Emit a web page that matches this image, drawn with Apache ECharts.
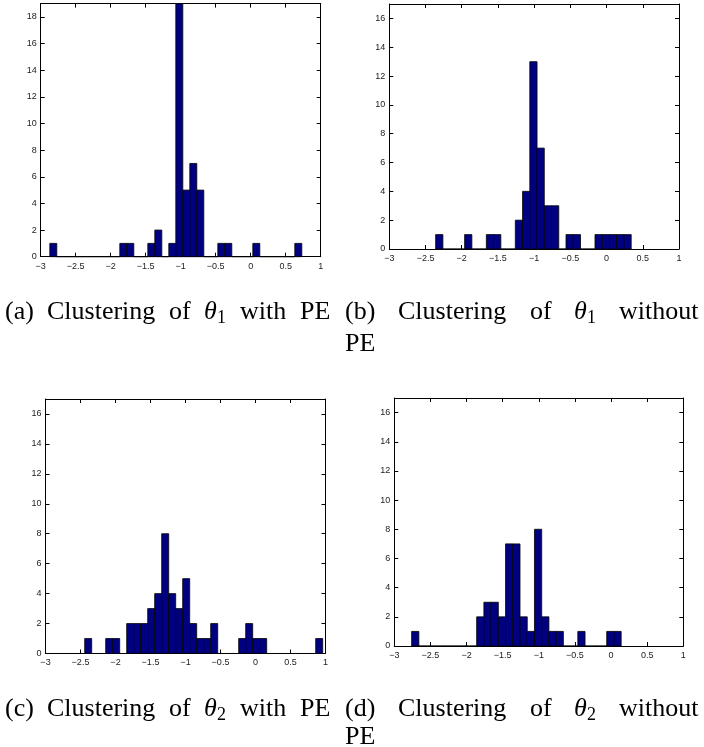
<!DOCTYPE html>
<html><head><meta charset="utf-8">
<script src="https://cdn.jsdelivr.net/npm/echarts@6/dist/echarts.min.js"></script>
<style>html,body{margin:0;padding:0;background:#fff}#c{width:704px;height:747px}</style>
</head><body><div id="c"></div>
<script>
// ---------------- data ----------------
const xTicks = [-3, -2.5, -2, -1.5, -1, -0.5, 0, 0.5, 1];
const yTicksA = [0, 2, 4, 6, 8, 10, 12, 14, 16, 18];
const yTicksBCD = [0, 2, 4, 6, 8, 10, 12, 14, 16];
const yMaxA = 19;
const yMaxBCD = 17;
const binWidth = 0.1;

// (a) theta1 with PE
const binStartA = -2.87;
const countsA = [1,0,0,0,0,0,0,0,0,0,1,1,0,0,1,2,0,1,19,5,7,5,0,0,1,1,0,0,0,1,0,0,0,0,0,1];
// (b) theta1 without PE
const binStartB = -2.36;
const countsB = [1,0,0,0,1,0,0,1,1,0,0,2,4,13,7,3,3,0,1,1,0,0,1,1,1,1,1];
// (c) theta2 with PE
const binStartC = -2.44;
const countsC = [1,0,0,1,1,0,2,2,2,3,4,8,4,3,5,2,1,1,2,0,0,0,1,2,1,1,0,0,0,0,0,0,0,1];
// (d) theta2 without PE
const binStartD = -2.76;
const countsD = [1,0,0,0,0,0,0,0,0,2,3,3,2,7,7,2,1,8,2,1,1,0,0,1,0,0,0,1,1];

const captionLeftLetters = ['(a)', '(c)'];
const captionRightLetters = ['(b)', '(d)'];
const captionSubs = ['1', '2'];

// ---------------- chart ----------------
const BAR = '#000080';
const grids = [
  {left: 40.7, top: 3.6, width: 280, height: 253.1},
  {left: 389.3, top: 4, width: 289.7, height: 245},
  {left: 45.5, top: 399, width: 280, height: 254.5},
  {left: 394.3, top: 398, width: 289, height: 248}
];
const yTickSets = [yTicksA, yTicksBCD, yTicksBCD, yTicksBCD];
const yMaxes = [yMaxA, yMaxBCD, yMaxBCD, yMaxBCD];
const starts = [binStartA, binStartB, binStartC, binStartD];
const countSets = [countsA, countsB, countsC, countsD];

const fmtX = v => String(v).replace('-', '\u2212');
const lineStyle = {color: '#000', width: 1};
const labelStyle = {fontFamily: 'Liberation Sans', fontSize: 9, color: '#222'};

const xAxes = [], yAxes = [], series = [];
grids.forEach((g, i) => {
  g.containLabel = false;
  g.outerBoundsMode = 'none';
  const xi = xAxes.length, yi = yAxes.length;
  const xBase = {gridIndex: i, type: 'value', min: xTicks[0], max: xTicks[xTicks.length - 1],
    interval: xTicks[1] - xTicks[0], splitLine: {show: false},
    axisLine: {show: true, onZero: false, lineStyle}, axisTick: {show: true, inside: true, length: 4, lineStyle}};
  xAxes.push(Object.assign({}, xBase, {position: 'bottom',
    axisLabel: Object.assign({show: true, margin: 5, formatter: fmtX}, labelStyle)}));
  xAxes.push(Object.assign({}, xBase, {position: 'top', axisLabel: {show: false}}));
  const yt = yTickSets[i];
  const yBase = {gridIndex: i, type: 'value', min: 0, max: yMaxes[i], interval: yt[1] - yt[0],
    splitLine: {show: false}, axisLine: {show: true, onZero: false, lineStyle},
    axisTick: {show: true, inside: true, length: 4, lineStyle}};
  yAxes.push(Object.assign({}, yBase, {position: 'left',
    axisLabel: Object.assign({show: true, margin: 4, showMaxLabel: false}, labelStyle)}));
  yAxes.push(Object.assign({}, yBase, {position: 'right', axisLabel: {show: false}}));
  const data = countSets[i].map((c, k) => [starts[i] + k * binWidth, starts[i] + (k + 1) * binWidth, c]);
  series.push({
    type: 'custom', xAxisIndex: xi, yAxisIndex: yi, data,
    encode: {x: [0, 1], y: 2},
    renderItem: (params, api) => {
      const p0 = api.coord([api.value(0), api.value(2)]);
      const p1 = api.coord([api.value(1), 0]);
      return {type: 'rect', shape: {x: p0[0], y: p0[1], width: p1[0] - p0[0], height: p1[1] - p0[1]},
        style: {fill: BAR, stroke: '#000', lineWidth: 0.8}};
    }
  });
});

// captions (word-by-word placement to mimic the LaTeX layout)
const SERIF = 'Liberation Serif';
const graphic = [];
function word(txt, x, y, opt) {
  opt = opt || {};
  graphic.push({type: 'text', x: x, y: y, style: {text: txt, x: 0, y: 0,
    font: (opt.italic ? 'italic ' : '') + (opt.size || 26) + 'px "' + SERIF + '"',
    fill: '#000', verticalAlign: 'middle', align: 'left'}});
}
[[312, 344], [709, 737]].forEach((rows, r) => {
  const y = rows[0];
  // left caption
  word(captionLeftLetters[r], 5, y);
  word('Clustering', 47, y);
  word('of', 169, y);
  word('\u03B8', 204, y, {italic: true});
  word(captionSubs[r], 217, y + 6, {size: 18});
  word('with', 240, y);
  word('PE', 300, y);
  // right caption (justified)
  word(captionRightLetters[r], 345, y);
  word('Clustering', 398, y);
  word('of', 530, y);
  word('\u03B8', 574, y, {italic: true});
  word(captionSubs[r], 587, y + 6, {size: 18});
  word('without', 619, y);
  word('PE', 345, rows[1]);
});

const chart = echarts.init(document.getElementById('c'), null, {renderer: 'canvas'});
chart.setOption({animation: false, grid: grids, xAxis: xAxes, yAxis: yAxes, series, graphic});
</script></body></html>
